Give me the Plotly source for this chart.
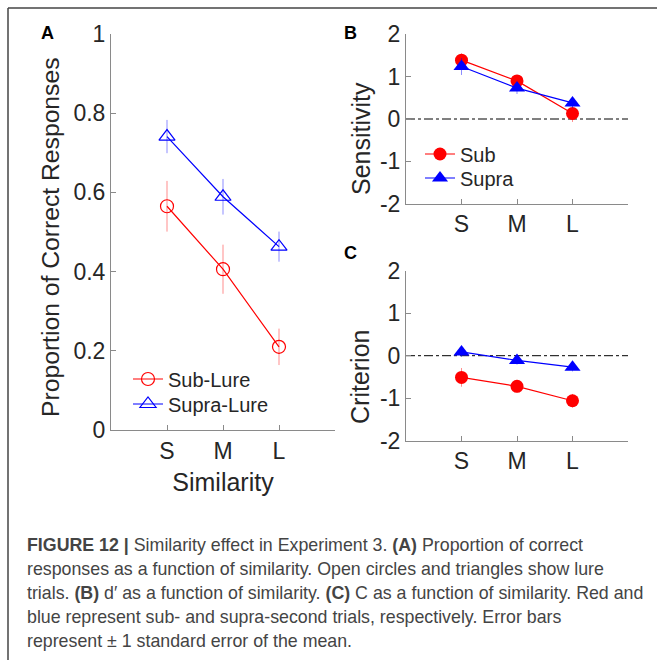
import plotly.graph_objects as go

W, H = 657, 666

# ---------------- data ----------------
similarity = ["S", "M", "L"]
xpos = [1, 2, 3]

# Panel A: proportion of correct responses (lure trials)
sub_lure = [0.565, 0.406, 0.210]
sub_lure_se = [0.064, 0.062, 0.046]
supra_lure = [0.741, 0.589, 0.463]
supra_lure_se = [0.042, 0.045, 0.038]

# Panel B: sensitivity (d')
sub_dprime = [1.39, 0.90, 0.13]
sub_dprime_se = [0.16, 0.14, 0.20]
supra_dprime = [1.24, 0.73, 0.38]
supra_dprime_se = [0.20, 0.14, 0.12]

# Panel C: criterion (C)
sub_crit = [-0.51, -0.72, -1.06]
sub_crit_se = [0.22, 0.15, 0.16]
supra_crit = [0.09, -0.11, -0.27]
supra_crit_se = [0.12, 0.10, 0.10]

RED = "#ff0000"
BLUE = "#0000ff"
RED_E = "rgba(255,0,0,0.45)"
BLUE_E = "rgba(0,0,255,0.45)"
FONT = "Liberation Sans"
TXT = "#262626"


def px_x(p):
    return p / W


def px_y(p):
    return 1 - p / H


fig = go.Figure()

# ---- Panel A ----
fig.add_trace(go.Scatter(
    x=xpos, y=sub_lure, name="Sub-Lure", mode="lines+markers",
    line=dict(color=RED, width=1.2),
    marker=dict(symbol="circle-open", size=13, color=RED, line=dict(width=1.2)),
    error_y=dict(type="data", array=sub_lure_se, color=RED_E, thickness=1, width=0),
    xaxis="x", yaxis="y", legend="legend"))
fig.add_trace(go.Scatter(
    x=xpos, y=supra_lure, name="Supra-Lure", mode="lines+markers",
    line=dict(color=BLUE, width=1.2),
    marker=dict(symbol="triangle-up-open", size=14, color=BLUE, line=dict(width=1.2)),
    error_y=dict(type="data", array=supra_lure_se, color=BLUE_E, thickness=1, width=0),
    xaxis="x", yaxis="y", legend="legend2"))

# ---- Panel B ----
fig.add_trace(go.Scatter(
    x=xpos, y=sub_dprime, name="Sub", mode="lines+markers",
    line=dict(color=RED, width=1.2),
    marker=dict(symbol="circle", size=13, color=RED),
    error_y=dict(type="data", array=sub_dprime_se, color=RED_E, thickness=1, width=0),
    xaxis="x2", yaxis="y2", legend="legend3"))
fig.add_trace(go.Scatter(
    x=xpos, y=supra_dprime, name="Supra", mode="lines+markers",
    line=dict(color=BLUE, width=1.2),
    marker=dict(symbol="triangle-up", size=14, color=BLUE),
    error_y=dict(type="data", array=supra_dprime_se, color=BLUE_E, thickness=1, width=0),
    xaxis="x2", yaxis="y2", legend="legend4"))

# ---- Panel C ----
fig.add_trace(go.Scatter(
    x=xpos, y=sub_crit, name="Sub", mode="lines+markers",
    line=dict(color=RED, width=1.2),
    marker=dict(symbol="circle", size=13, color=RED),
    error_y=dict(type="data", array=sub_crit_se, color=RED_E, thickness=1, width=0),
    xaxis="x3", yaxis="y3", showlegend=False))
fig.add_trace(go.Scatter(
    x=xpos, y=supra_crit, name="Supra", mode="lines+markers",
    line=dict(color=BLUE, width=1.2),
    marker=dict(symbol="triangle-up", size=14, color=BLUE),
    error_y=dict(type="data", array=supra_crit_se, color=BLUE_E, thickness=1, width=0),
    xaxis="x3", yaxis="y3", showlegend=False))

axis_common = dict(
    showline=True, linecolor="#8a8a8a", linewidth=1, mirror=False,
    ticks="inside", ticklen=5, tickcolor="#8a8a8a", tickwidth=1,
    showgrid=False, zeroline=False, automargin=False,
    tickfont=dict(family=FONT, size=23, color=TXT),
)
TITLE_FONT = dict(family=FONT, size=25, color=TXT)

xt = dict(range=[0, 4], tickmode="array", tickvals=xpos + [4],
          ticktext=similarity + [""], **axis_common)


def leg(xp, yp):
    return dict(x=px_x(xp), y=px_y(yp), xanchor="left", yanchor="middle",
                bgcolor="rgba(0,0,0,0)", borderwidth=0,
                font=dict(family=FONT, size=20, color=TXT),
                tracegroupgap=0, itemwidth=30)


fig.update_layout(
    width=W, height=H,
    margin=dict(l=0, r=0, t=0, b=0, pad=0),
    paper_bgcolor="white", plot_bgcolor="white",
    font=dict(family=FONT, color=TXT),
    xaxis=dict(domain=[px_x(111), px_x(335)], anchor="y",
               title=dict(text="Similarity", font=TITLE_FONT, standoff=10),
               **xt),
    yaxis=dict(domain=[px_y(430), px_y(34)], anchor="x", range=[0, 1],
               tickvals=[0, 0.2, 0.4, 0.6, 0.8, 1], ticktext=["0", "0.2", "0.4", "0.6", "0.8", "1"],
               **axis_common),
    xaxis2=dict(domain=[px_x(406), px_x(628)], anchor="y2", **xt),
    yaxis2=dict(domain=[px_y(203.7), px_y(34.3)], anchor="x2", range=[-2, 2],
                tickvals=[-2, -1, 0, 1, 2], ticktext=["-2", "-1", "0", "1", "2"],
                **axis_common),
    xaxis3=dict(domain=[px_x(406), px_x(628)], anchor="y3", **xt),
    yaxis3=dict(domain=[px_y(440.7), px_y(270.7)], anchor="x3", range=[-2, 2],
                tickvals=[-2, -1, 0, 1, 2], ticktext=["-2", "-1", "0", "1", "2"],
                **axis_common),
    legend=leg(128, 379),
    legend2=leg(128, 404),
    legend3=leg(420, 154),
    legend4=leg(420, 178),
    showlegend=True,
)

# y-axis titles (placed as MATLAB placed them)
for text, xp, yp, fs in (("Proportion of Correct Responses", 51, 237, 24.7),
                         ("Sensitivity", 361, 139, 25),
                         ("Criterion", 360, 377, 25)):
    fig.add_annotation(text=text, xref="paper", yref="paper", x=px_x(xp), y=px_y(yp),
                       xanchor="center", yanchor="middle", textangle=-90, showarrow=False,
                       font=dict(family=FONT, size=fs, color=TXT))

# zero reference lines in B and C
for xr, yr in (("x2", "y2"), ("x3", "y3")):
    fig.add_shape(type="line", xref=f"{xr} domain", yref=yr, x0=0, x1=1, y0=0, y1=0,
                  line=dict(color="black", width=1, dash="dashdot"), layer="below")

# outer frame (top and left edges)
fig.add_shape(type="line", xref="paper", yref="paper", x0=px_x(8), x1=1, y0=px_y(8), y1=px_y(8),
              line=dict(color="#444444", width=1.5))
fig.add_shape(type="line", xref="paper", yref="paper", x0=px_x(8), x1=px_x(8), y0=px_y(8), y1=px_y(660),
              line=dict(color="#444444", width=1.5))

# panel letters
for letter, xp, yp in (("A", 47, 33), ("B", 350, 33), ("C", 350, 253)):
    fig.add_annotation(text=f"<b>{letter}</b>", xref="paper", yref="paper",
                       x=px_x(xp), y=px_y(yp), xanchor="center", yanchor="middle",
                       showarrow=False, font=dict(family=FONT, size=18, color="black"))

# caption
caption_lines = [
    "<b>FIGURE 12 |</b> Similarity effect in Experiment 3. <b>(A)</b> Proportion of correct",
    "responses as a function of similarity. Open circles and triangles show lure",
    "trials. <b>(B)</b> d′ as a function of similarity. <b>(C)</b> C as a function of similarity. Red and",
    "blue represent sub- and supra-second trials, respectively. Error bars",
    "represent ± 1 standard error of the mean.",
]
caption_y = [545, 569, 593, 617, 641]
for line, yp in zip(caption_lines, caption_y):
    fig.add_annotation(text=line, xref="paper", yref="paper", x=px_x(25), y=px_y(yp),
                       xanchor="left", yanchor="middle", showarrow=False,
                       font=dict(family=FONT, size=17.8, color="#444444"))

fig.write_html("out.html", config={"responsive": False, "displayModeBar": False},
               post_script="document.body.style.margin='0';")
